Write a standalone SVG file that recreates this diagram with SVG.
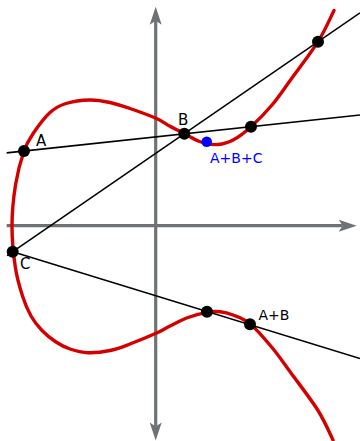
<svg xmlns="http://www.w3.org/2000/svg" width="360" height="441" viewBox="0 0 360 441">
<defs>
<style>
.axis{fill:none;stroke:#6e7275;stroke-width:3.2}
.curve{fill:none;stroke:#d40000;stroke-width:3.4;stroke-linecap:round;stroke-linejoin:round}
.ln{fill:none;stroke:#000;stroke-width:1.6}
.pt{fill:#000}
.sum{fill:#0000ff}
.lbl{font-family:"DejaVu Sans","Liberation Sans",sans-serif;font-size:15px;fill:#000}
.lbl2{font-family:"DejaVu Sans","Liberation Sans",sans-serif;font-size:14px}
</style>
<marker id="ah" markerUnits="userSpaceOnUse" markerWidth="20" markerHeight="14" viewBox="-19 -7 20 14" refX="-14" refY="0" orient="auto-start-reverse" overflow="visible">
<path d="M0,0 L-18,-6 L-14,0 L-18,6 Z" fill="#6e7275"/>
</marker>
</defs>
<g id="axes">
<path class="axis" d="M6.7,225.7 H342.7" marker-end="url(#ah)"/>
<path class="axis" d="M155.7,426.5 V20.7" marker-start="url(#ah)" marker-end="url(#ah)"/>
</g>
<g id="curve">
<path class="curve" d="M334,10.5 C331.33,15.7 325.25,30.12 318,41.7 C310.75,53.28 298.17,69.45 290.5,80 C282.83,90.55 278.58,97.22 272,105 C265.42,112.78 257.33,120.95 251,126.7 C244.67,132.45 239.5,136.53 234,139.5 C228.5,142.47 223.5,144.08 218,144.5 C212.5,144.92 206.5,143.75 201,142 C195.5,140.25 190.17,136.62 185,134 C179.83,131.38 174.83,128.92 170,126.3 C165.17,123.68 162.67,121.27 156,118.3 C149.33,115.33 137.67,111.13 130,108.5 C122.33,105.87 116.67,103.92 110,102.5 C103.33,101.08 97.33,99.83 90,100 C82.67,100.17 72.67,101.42 66,103.5 C59.33,105.58 55.42,107.58 50,112.5 C44.58,117.42 37.83,126.58 33.5,133 C29.17,139.42 27,142.33 24,151 C21,159.67 17.5,172.5 15.5,185 C13.5,197.5 12.03,212.33 12,226 C11.97,239.67 13.55,255.33 15.3,267 C17.05,278.67 19.88,287.83 22.5,296 C25.12,304.17 27.75,310.25 31,316 C34.25,321.75 37.83,326.17 42,330.5 C46.17,334.83 51.33,338.92 56,342 C60.67,345.08 64.67,347.22 70,349 C75.33,350.78 81.33,352.45 88,352.7 C94.67,352.95 103,351.95 110,350.5 C117,349.05 122.33,346.87 130,344 C137.67,341.13 149.33,336.3 156,333.3 C162.67,330.3 164.67,328.63 170,326 C175.33,323.37 181.83,319.78 188,317.5 C194.17,315.22 201.67,313.27 207,312.3 C212.33,311.33 215.67,311.25 220,311.7 C224.33,312.15 228,313 233,315 C238,317 243.5,318.28 250,323.7 C256.5,329.12 265.17,339.28 272,347.5 C278.83,355.72 283.33,362.5 291,373 C298.67,383.5 311,399.33 318,410.5 C325,421.67 330.5,435.08 333,440"/>
</g>
<g id="connectors">
<path class="ln" d="M6.7,152.85 L360,115.03"/>
<path class="ln" d="M7,255.62 L360,12.81"/>
<path class="ln" d="M7,249.95 L360,358.5"/>
</g>
<g id="node-A"><circle class="pt" cx="24" cy="151" r="6"/><text class="lbl" x="36" y="145.7">A</text></g>
<g id="node-B"><circle class="pt" cx="184.3" cy="133.8" r="6"/><text class="lbl" x="178" y="124.7">B</text></g>
<g id="node-P1"><circle class="pt" cx="251" cy="126.7" r="6"/></g>
<g id="node-P2"><circle class="pt" cx="318" cy="41.7" r="6"/></g>
<g id="node-C"><circle class="pt" cx="12.7" cy="251.7" r="6"/><text class="lbl" x="20" y="268.5">C</text></g>
<g id="node-P3"><circle class="pt" cx="207" cy="311.8" r="6"/></g>
<g id="node-AB"><circle class="pt" cx="250" cy="324.3" r="6"/><text class="lbl2" x="258.5" y="320.3" fill="#000">A+B</text></g>
<g id="node-ABC"><circle class="sum" cx="206.7" cy="141.7" r="5.3"/><text class="lbl2" x="210" y="163.3" fill="#0000ff">A+B+C</text></g>
</svg>
